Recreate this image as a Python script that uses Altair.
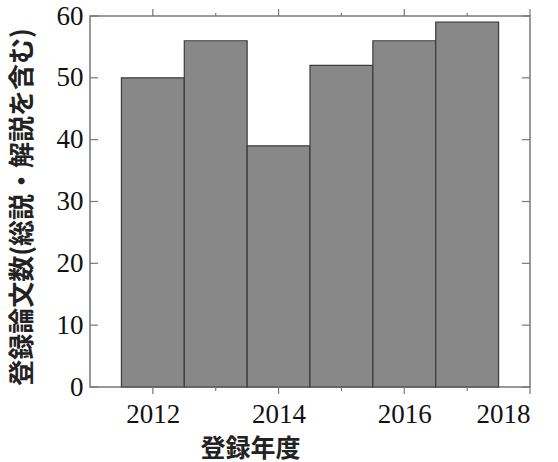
import altair as alt
import pandas as pd

# Registered papers per fiscal year (reviews and commentaries included)
years = [2012, 2013, 2014, 2015, 2016, 2017]
counts = [50, 56, 39, 52, 56, 59]

x_major = [2012, 2014, 2016, 2018]
x_minor = [2013, 2015, 2017]
y_major = [0, 10, 20, 30, 40, 50, 60]

W, H = 440, 371
NUM_FONT = "Liberation Serif"
JP_FONT = "Noto Sans CJK JP"

bars_df = pd.DataFrame({"year": years, "count": counts})

x_scale = alt.Scale(domain=[2011, 2018], nice=False, zero=False)
y_scale = alt.Scale(domain=[0, 60], nice=False)

bars = (
    alt.Chart(bars_df)
    .transform_calculate(start="datum.year - 0.5", end="datum.year + 0.5")
    .mark_rect(fill="#888888", stroke="#3c3c3c", strokeWidth=1.2)
    .encode(
        x=alt.X(
            "start:Q",
            scale=x_scale,
            axis=alt.Axis(
                values=x_major,
                format="d",
                ticks=False,
                domain=False,
                grid=False,
                labelFont=NUM_FONT,
                labelFontSize=27,
                labelColor="#111111",
                labelPadding=14,
                title="登録年度",
                titleFont=JP_FONT,
                titleFontSize=25,
                titleFontWeight="bold",
                titleColor="#222222",
                titleX=160,
                titleY=61,
                titleAlign="center",
                titleBaseline="middle",
            ),
        ),
        x2="end:Q",
        y=alt.Y(
            "count:Q",
            scale=y_scale,
            axis=alt.Axis(
                values=y_major,
                ticks=False,
                domain=False,
                grid=False,
                labelFont=NUM_FONT,
                labelFontSize=27,
                labelColor="#111111",
                labelPadding=7,
                title="登録論文数(総説・解説を含む)",
                titleFont=JP_FONT,
                titleFontSize=26,
                titleFontWeight="bold",
                titleColor="#222222",
                titleAngle=270,
                titleX=-68,
                titleY=H / 2 + 5,
                titleAlign="center",
                titleBaseline="middle",
            ),
        ),
        y2=alt.datum(0),
    )
)

tick_color = "#777777"
xmaj_df = pd.DataFrame({"t": x_major})
xmin_df = pd.DataFrame({"t": x_minor})
ymaj_df = pd.DataFrame({"v": y_major})


def xticks(df, y0, y1):
    return (
        alt.Chart(df)
        .mark_rule(color=tick_color, strokeWidth=1.2)
        .encode(
            x=alt.X("t:Q", scale=x_scale),
            y=alt.value(y0),
            y2=alt.value(y1),
        )
    )


def yticks(df, x0, x1):
    return (
        alt.Chart(df)
        .mark_rule(color=tick_color, strokeWidth=1.2)
        .encode(
            y=alt.Y("v:Q", scale=y_scale),
            x=alt.value(x0),
            x2=alt.value(x1),
        )
    )


layers = [
    bars,
    xticks(xmaj_df, H, H + 7),
    xticks(xmin_df, H, H + 4),
    xticks(xmaj_df, -7, 0),
    xticks(xmin_df, -3, 0),
    yticks(ymaj_df, 0, 8),
    yticks(ymaj_df, W - 8, W),
]

chart = (
    alt.layer(*layers)
    .properties(
        width=W,
        height=H,
        autosize=alt.AutoSizeParams(type="none"),
        padding={"left": 90, "top": 16, "right": 28, "bottom": 75},
        background="white",
    )
    .configure_view(stroke="#7a7a7a", strokeWidth=1.5)
)

chart.save("out.html", embed_options={"renderer": "svg", "actions": False})
